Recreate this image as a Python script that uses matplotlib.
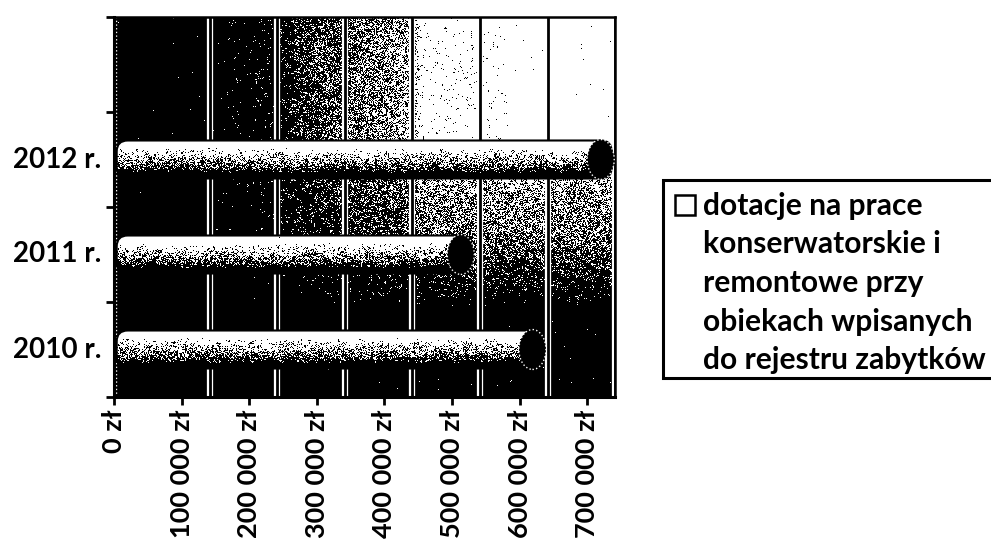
"""
Dotacje chart, scanned look: 3D cylinder bars on a dark gradient wall.
"""

import numpy as np
import matplotlib
matplotlib.use("Agg")
import matplotlib.pyplot as plt
from matplotlib.patches import Ellipse, FancyBboxPatch, Rectangle

plt.rcParams['font.family'] = ['Lato', 'DejaVu Sans']
plt.rcParams['font.weight'] = 'bold'

years = ["2010 r.", "2011 r.", "2012 r."]
values = [619000, 513000, 720000]
ticks = [0, 100000, 200000, 300000, 400000, 500000, 600000, 700000]
tick_labels = ["0 zł", "100 000 zł", "200 000 zł", "300 000 zł",
               "400 000 zł", "500 000 zł", "600 000 zł", "700 000 zł"]
legend_lines = ["dotacje na prace", "konserwatorskie i", "remontowe przy",
                "obiekach wpisanych", "do rejestru zabytków"]

W, H = 991, 540
AX_L, AX_R, AX_T, AX_B = 114, 615, 17, 397
PX_PER_VAL = 67.6 / 100000
X_MAX = (AX_R - AX_L) / PX_PER_VAL
PX_PER_CAT = (AX_B - AX_T) / 4
WALL_SHIFT = 28 / PX_PER_VAL   # back wall sits a bit right of the tick marks
BAR_LEFT = 4000

# grain only, the scanned halftone look
rng = np.random.default_rng(7)


def dither(darkness):
    # mostly fine grain, a bit of coarse noise so the specks clump
    h, w = darkness.shape
    coarse = rng.random((h // 3 + 1, w // 3 + 1))
    coarse = np.repeat(np.repeat(coarse, 3, axis=0), 3, axis=1)[:h, :w]
    grain = 0.7 * rng.random((h, w)) + 0.3 * coarse
    # back to an even spread, so darkness means share of black
    ranks = grain.ravel().argsort().argsort().reshape(h, w) / grain.size
    return (ranks > darkness).astype(float)


fig = plt.figure(figsize=(W / 100, H / 100), dpi=100)
ax = fig.add_axes([AX_L / W, 1 - AX_B / H, (AX_R - AX_L) / W, (AX_B - AX_T) / H])
ax.set_xlim(0, X_MAX)
ax.set_ylim(-0.5, 3.5)

# wall: fades to white towards the right and to black towards the bottom
nx, ny = AX_R - AX_L, AX_B - AX_T
xx, yy = np.meshgrid(np.arange(nx) + AX_L, np.arange(ny) + AX_T)
fade_x = np.interp(xx, [210, 278, 300, 346, 414, 420, 481, 520],
                   [0.999, 0.96, 0.82, 0.62, 0.35, 0.04, 0.02, 0.002])
fade_y = np.interp(yy, [140, 183, 210, 240, 270, 305], [0, 0.35, 0.5, 0.6, 0.85, 0.998])
wall = 1 - (1 - fade_x) * (1 - fade_y)
ax.imshow(dither(wall), cmap="gray", vmin=0, vmax=1, extent=(0, X_MAX, -0.5, 3.5),
          aspect="auto", interpolation="nearest", zorder=0)

for t in ticks[1:]:
    ax.axvline(t + WALL_SHIFT, color="white", lw=4.5, zorder=1)
    ax.axvline(t + WALL_SHIFT, color="black", lw=2, zorder=1.1)
ax.axvline(3000, color="white", lw=1, ls=":", zorder=1)

# cylinders
bar_h = 0.40
cap_w = 27 / PX_PER_VAL
round_x = 11 / PX_PER_VAL
round_y = 11 / PX_PER_CAT
for pos, val in enumerate(values):
    bars = ax.barh(pos, val - BAR_LEFT, height=bar_h, left=BAR_LEFT, color="white",
                   edgecolor="none", zorder=2)
    y0 = pos - bar_h / 2
    rows = 38
    cols = int(val * PX_PER_VAL)
    shade = np.clip((np.linspace(0, 1, rows) - 0.2) / 0.68, 0, 1) ** 1.3
    shade = shade[:, None] * np.ones((rows, cols))
    img = ax.imshow(dither(shade), cmap="gray", vmin=0, vmax=1,
                    extent=(BAR_LEFT, val, y0, y0 + bar_h), aspect="auto",
                    interpolation="nearest", zorder=3)
    body = FancyBboxPatch((BAR_LEFT, y0), val + round_x - BAR_LEFT, bar_h,
                          boxstyle=f"round,pad=0,rounding_size={round_x}",
                          mutation_aspect=round_y / round_x,
                          transform=ax.transData, facecolor="none",
                          edgecolor="black", lw=1.5, zorder=4)
    ax.add_patch(body)
    img.set_clip_path(body)
    bars[0].set_clip_path(body)
    ax.add_patch(Ellipse((val, pos), cap_w, bar_h + 0.02, facecolor="black",
                         edgecolor="white", lw=1, ls=":", zorder=5))

ax.set_xticks(ticks)
ax.set_xticklabels(tick_labels, rotation=90, fontsize=19.5, fontweight="bold")
ax.set_yticks([-0.5, 0.5, 1.5, 2.5, 3.5])
ax.set_yticklabels([])
ax.tick_params(axis="x", length=6, width=2, pad=3)
ax.tick_params(axis="y", length=6, width=2)
for pos, yr in enumerate(years):
    ax.annotate(yr, (0, pos), xytext=(-9, 0), textcoords="offset points", ha="right",
                va="center", fontsize=20, fontweight="bold", annotation_clip=False)

for side in ["left", "bottom"]:
    ax.spines[side].set_linewidth(2.2)
ax.spines["top"].set_linewidth(1.8)
ax.spines["right"].set_linewidth(1.8)

# legend box, in pixels
fig.add_artist(Rectangle((663 / W, 1 - 378 / H), 330 / W, 198 / H, transform=fig.transFigure,
                         facecolor="white", edgecolor="black", lw=2.2))
fig.add_artist(Rectangle((675 / W, 1 - 215 / H), 20 / W, 20 / H, transform=fig.transFigure,
                         facecolor="white", edgecolor="black", lw=1.8))
for i, line in enumerate(legend_lines):
    fig.text(703 / W, 1 - (206 + i * 38.5) / H, line, fontsize=21.6, fontweight="bold", va="center")

fig.savefig("out.png", dpi=100)
